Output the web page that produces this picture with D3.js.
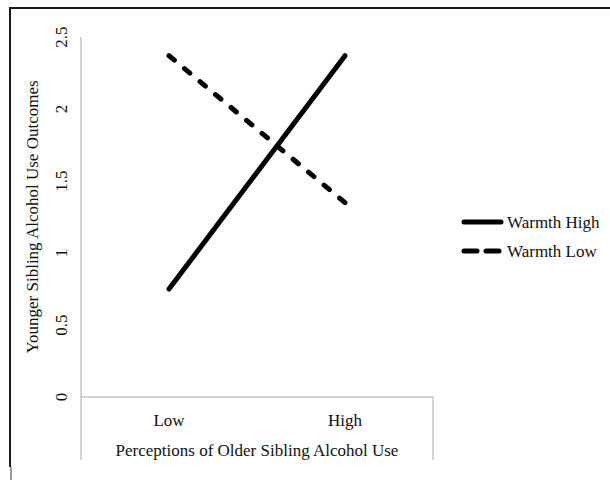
<!DOCTYPE html>
<html>
<head>
<meta charset="utf-8">
<script src="https://cdn.jsdelivr.net/npm/d3@7"></script>
<style>
  body { margin: 0; background: #fff; }
  text { font-family: "Liberation Serif", "Times New Roman", serif; fill: #111; }
</style>
</head>
<body>
<div id="chart"></div>
<script>
// data
var categories = ["Low", "High"];
var warmthHigh = [0.75, 2.37];
var warmthLow = [2.37, 1.35];
var yTicks = [0, 0.5, 1, 1.5, 2, 2.5];
var seriesNames = ["Warmth High", "Warmth Low"];

var width = 610, height = 480;
var fontSize = 17;

var svg = d3.select("#chart").append("svg")
    .attr("width", width)
    .attr("height", height);

// outer frame (only top and left visible, picture is cropped)
svg.append("line").attr("x1", 9).attr("x2", width).attr("y1", 8).attr("y2", 8)
    .attr("stroke", "#1a1a1a").attr("stroke-width", 2);
svg.append("line").attr("x1", 10).attr("x2", 10).attr("y1", 7).attr("y2", 467)
    .attr("stroke", "#1a1a1a").attr("stroke-width", 2);
svg.append("line").attr("x1", 11).attr("x2", 11).attr("y1", 467).attr("y2", 480)
    .attr("stroke", "#777").attr("stroke-width", 1.5);

var x = d3.scaleBand().domain(categories).range([81, 433]);
var y = d3.scaleLinear().domain([0, 2.5]).range([397, 37]);

var axisColor = "#a6a6a6";

// y axis line
svg.append("line")
    .attr("x1", 81).attr("x2", 81)
    .attr("y1", y(2.5)).attr("y2", y(0))
    .attr("stroke", axisColor).attr("stroke-width", 1);

// category axis box
svg.append("path")
    .attr("d", "M81,460V" + y(0) + "H433V460")
    .attr("fill", "none")
    .attr("stroke", axisColor).attr("stroke-width", 1);

// y tick labels, rotated
svg.selectAll(".ytick").data(yTicks).enter().append("text")
    .attr("class", "ytick")
    .attr("transform", function(d) { return "translate(67," + y(d) + ") rotate(-90)"; })
    .attr("text-anchor", "middle")
    .attr("font-size", fontSize)
    .text(function(d) { return d; });

// y title
svg.append("text")
    .attr("transform", "translate(38," + (y(0) + y(2.5)) / 2 + ") rotate(-90)")
    .attr("text-anchor", "middle")
    .attr("font-size", fontSize)
    .text("Younger Sibling Alcohol Use Outcomes");

// category labels
svg.selectAll(".xtick").data(categories).enter().append("text")
    .attr("class", "xtick")
    .attr("x", function(d) { return x(d) + x.bandwidth() / 2; })
    .attr("y", 426)
    .attr("text-anchor", "middle")
    .attr("font-size", fontSize)
    .text(function(d) { return d; });

svg.append("text")
    .attr("x", 257).attr("y", 456)
    .attr("text-anchor", "middle")
    .attr("font-size", fontSize)
    .text("Perceptions of Older Sibling Alcohol Use");

// lines
var line = d3.line()
    .x(function(d, i) { return x(categories[i]) + x.bandwidth() / 2; })
    .y(function(d) { return y(d); });

var dashes = [null, "7,13.2"];
[warmthHigh, warmthLow].forEach(function(s, i) {
    svg.append("path")
        .datum(s)
        .attr("d", line)
        .attr("fill", "none")
        .attr("stroke", "#000")
        .attr("stroke-width", 5)
        .attr("stroke-linecap", "round")
        .attr("stroke-dasharray", dashes[i]);
});

// legend
var legend = svg.selectAll(".legend").data(seriesNames).enter().append("g")
    .attr("class", "legend")
    .attr("transform", function(d, i) { return "translate(462," + (222 + i * 29) + ")"; });

legend.append("line")
    .attr("x1", 2).attr("x2", 39)
    .attr("stroke", "#000").attr("stroke-width", 5)
    .attr("stroke-linecap", "round")
    .attr("stroke-dasharray", function(d, i) { return i ? "13,9" : null; });

legend.append("text")
    .attr("x", 45).attr("y", 6)
    .attr("font-size", fontSize)
    .text(function(d) { return d; });
</script>
</body>
</html>
